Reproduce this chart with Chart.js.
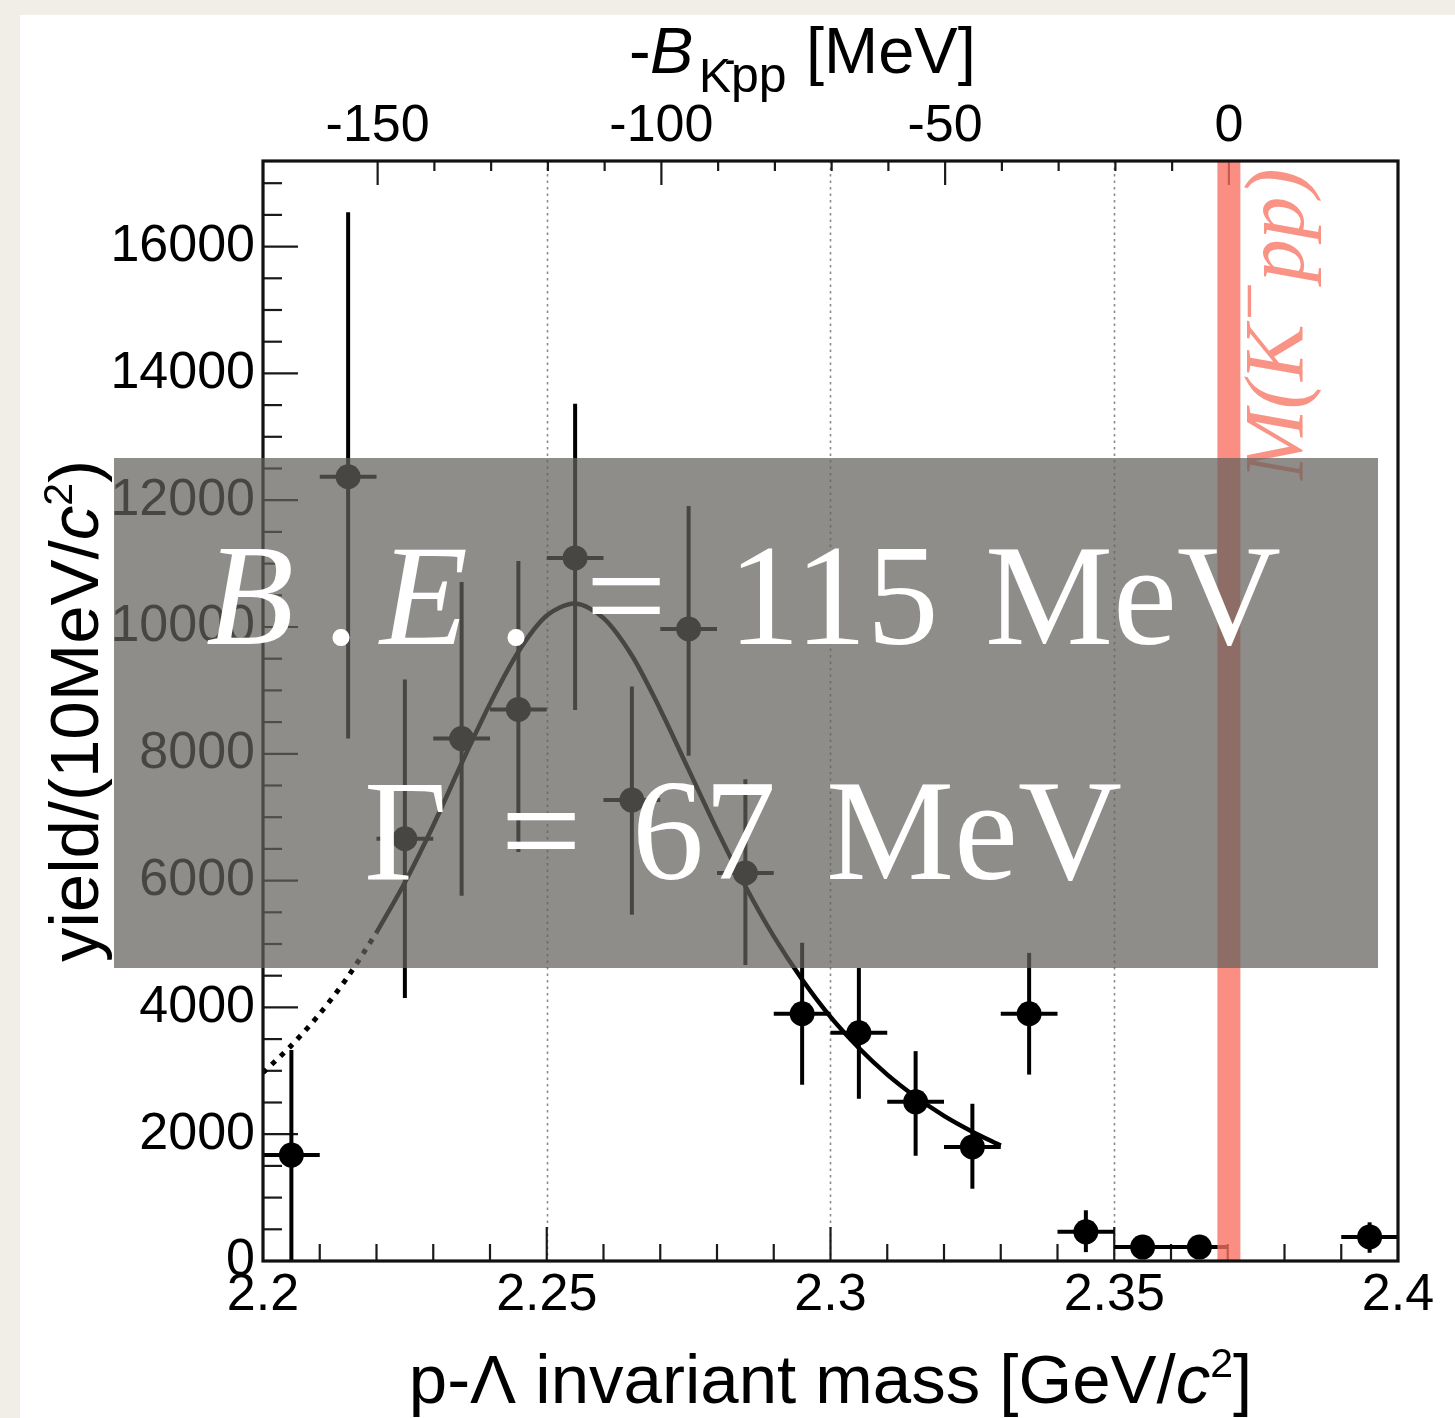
<!DOCTYPE html>
<html><head><meta charset="utf-8">
<script src="https://cdn.jsdelivr.net/npm/chart.js@4.4.1/dist/chart.umd.min.js"></script>
<style>html,body{margin:0;padding:0;background:#f1eee8;overflow:hidden}canvas{display:block}</style>
</head><body>
<canvas id="c" width="1455" height="1418"></canvas>
<script>
// ---------------- data ----------------
const binCenters  = [2.205,2.215,2.225,2.235,2.245,2.255,2.265,2.275,2.285,2.295,2.305,2.315,2.325,2.335,2.345,2.355,2.365,2.395];
const yieldValues = [1670,12370,6660,8240,8700,11090,7270,9970,6120,3900,3600,2510,1800,3900,460,220,220,380];
const yieldUpper  = [3330,16540,9170,10710,11040,13520,9060,11910,7600,5020,4620,3310,2480,4860,800,330,330,610];
const yieldLower  = [0,8240,4150,5760,6450,8690,5460,7970,4670,2780,2560,1660,1140,2940,140,110,110,130];
const binHalfWidth = 0.005;

const fitMassSolid  = [2.220,2.225,2.230,2.235,2.240,2.245,2.250,2.255,2.260,2.265,2.270,2.275,2.280,2.285,2.290,2.295,2.300,2.305,2.310,2.315,2.320,2.325,2.330];
const fitYieldSolid = [5180,5970,6870,7850,8790,9610,10180,10370,10140,9550,8700,7750,6800,5910,5120,4440,3850,3360,2940,2590,2290,2040,1820];
const fitMassDotted  = [2.200,2.205,2.210,2.215,2.220];
const fitYieldDotted = [2970,3400,3900,4490,5180];

const thresholdMass = 2.3702;       // M(K- p p) in GeV/c2, where -B = 0
const massMin = 2.2, massMax = 2.4, yieldMax = 17350;

const xTickValues = [2.2,2.25,2.3,2.35,2.4];
const xTickLabels = ['2.2','2.25','2.3','2.35','2.4'];
const yTickValues = [0,2000,4000,6000,8000,10000,12000,14000,16000];
const yTickLabels = ['0','2000','4000','6000','8000','10000','12000','14000','16000'];
const topTickValues = [-150,-100,-50,0];
const topTickLabels = ['-150','-100','-50','0'];
const gridMasses = [2.25,2.3,2.35];

// ---------------- layout ----------------
const W = 1455, H = 1418;
const PLOT = {left:263, top:161, right:1398, bottom:1261};
const SANS = '"Liberation Sans", Arial, sans-serif';
const SERIF = '"Liberation Serif", "Times New Roman", serif';

function drawRich(c, segs, x, y){
  let cx = x;
  segs.forEach(s => { c.font = s.font; cx += (s.pre||0); c.fillText(s.t, cx, y + (s.dy||0)); cx += c.measureText(s.t).width + (s.dx||0); });
}
function richWidth(c, segs){
  let w = 0;
  segs.forEach(s => { c.font = s.font; w += (s.pre||0) + c.measureText(s.t).width + (s.dx||0); });
  return w;
}

const deco = {
  id:'deco',
  beforeDraw(chart){
    const c = chart.ctx;
    c.save();
    c.fillStyle = '#f1eee8'; c.fillRect(0,0,W,H);
    c.fillStyle = '#ffffff'; c.fillRect(20,15,W-20,H-15);
    c.restore();
  },
  beforeDatasetsDraw(chart){
    const c = chart.ctx, a = chart.chartArea;
    const xs = chart.scales.x, ys = chart.scales.y, ts = chart.scales.x2;
    c.save();
    // dotted vertical grid
    c.strokeStyle = '#8a8a8a'; c.lineWidth = 1.6; c.setLineDash([2.5,4]);
    gridMasses.forEach(m => {
      const px = Math.round(xs.getPixelForValue(m)) + 0.5;
      c.beginPath(); c.moveTo(px, a.top); c.lineTo(px, a.bottom); c.stroke();
    });
    c.setLineDash([]);
    // inward ticks
    c.strokeStyle = '#1a1a1a'; c.lineWidth = 2.2;
    const seg = (x1,y1,x2,y2)=>{ c.beginPath(); c.moveTo(x1,y1); c.lineTo(x2,y2); c.stroke(); };
    for (let k = 1; k < 20; k++) {
      const px = xs.getPixelForValue(massMin + k*0.01);
      seg(px, a.bottom, px, a.bottom - (k%5===0 ? 34 : 17));
    }
    for (let v = 500; v <= 17000; v += 500) {
      const py = ys.getPixelForValue(v);
      seg(a.left, py, a.left + (v%2000===0 ? 35 : 19), py);
    }
    for (let v = -150; v <= 0; v += 10) {
      const px = ts.getPixelForValue(v);
      seg(px, a.top, px, a.top + (v%50===0 ? 24 : 10));
    }
    // error bars
    c.strokeStyle = '#000'; c.lineWidth = 4;
    binCenters.forEach((m,i) => {
      const px = xs.getPixelForValue(m), py = ys.getPixelForValue(yieldValues[i]);
      seg(px, ys.getPixelForValue(yieldLower[i]), px, ys.getPixelForValue(yieldUpper[i]));
      seg(xs.getPixelForValue(m - binHalfWidth), py, xs.getPixelForValue(m + binHalfWidth), py);
    });
    c.restore();
  },
  afterDatasetsDraw(chart){
    const c = chart.ctx, a = chart.chartArea;
    c.save();
    // frame
    c.strokeStyle = '#111'; c.lineWidth = 3.2;
    c.strokeRect(a.left, a.top, a.right - a.left, a.bottom - a.top);
    // M(K- pp) label, rotated
    c.translate(1303, 480); c.rotate(-Math.PI/2);
    c.fillStyle = 'rgba(247,128,112,0.85)'; c.textBaseline = 'alphabetic';
    drawRich(c, [
      {t:'M(K', font:'italic 85px ' + SERIF},
      {t:'\u2212', font:'68px ' + SERIF, dy:-31, pre:4, dx:0},
      {t:'pp)', font:'italic 85px ' + SERIF}
    ], 0, 0);
    c.restore();
  },
  afterDraw(chart){
    const c = chart.ctx;
    c.save();
    // translucent gray box
    c.fillStyle = 'rgba(100,97,92,0.72)';
    c.fillRect(114, 458, 1378-114, 968-458);
    // white text
    c.fillStyle = '#ffffff'; c.textBaseline = 'alphabetic'; c.textAlign = 'left';
    const big = '144px ' + SERIF, bigI = 'italic 144px ' + SERIF;
    c.font = bigI; c.fillText('B', 206, 644);
    c.font = big;  c.textAlign='center'; c.fillText('.', 341, 644); c.textAlign='left';
    c.font = bigI; c.fillText('E', 380, 644);
    c.font = big;  c.textAlign='center'; c.fillText('.', 516, 644); c.fillText('=', 626, 644); c.textAlign='left';
    c.fillText('115', 728, 644);
    c.fillText('MeV', 985, 644);
    c.fillText('\u0393', 364, 879);
    c.textAlign='center'; c.fillText('=', 541, 879); c.textAlign='left';
    c.fillText('67', 632, 879);
    c.fillText('MeV', 826, 879);

    // axis titles
    c.fillStyle = '#000';
    const bSegs = [
      {t:'p-\u039B invariant mass [GeV/', font:'69px ' + SANS},
      {t:'c', font:'italic 69px ' + SANS},
      {t:'2', font:'41px ' + SANS, dy:-26},
      {t:']', font:'69px ' + SANS}
    ];
    const bw = richWidth(c, bSegs);
    drawRich(c, bSegs, (PLOT.left + PLOT.right)/2 - bw/2, 1403);

    const ySegs = [
      {t:'yield/(10MeV/', font:'69px ' + SANS},
      {t:'c', font:'italic 69px ' + SANS},
      {t:'2', font:'41px ' + SANS, dy:-26},
      {t:')', font:'69px ' + SANS}
    ];
    const yw = richWidth(c, ySegs);
    c.save();
    c.translate(98, (PLOT.top + PLOT.bottom)/2); c.rotate(-Math.PI/2);
    drawRich(c, ySegs, -yw/2, 0);
    c.restore();

    // top title  -B_{K^- pp} [MeV]
    c.font = '65px ' + SANS; c.fillText('-', 629, 73);
    c.font = 'italic 65px ' + SANS; c.fillText('B', 650, 73);
    c.font = '48px ' + SANS; c.fillText('K', 699, 92);
    c.font = 'bold 30px ' + SANS; c.fillText('-', 725, 70);
    c.font = '50px ' + SANS; c.fillText('pp', 731, 92);
    c.font = '65px ' + SANS; c.fillText('[MeV]', 806, 73);
    c.restore();
  }
};

const tickFont = {family:'"Liberation Sans", Arial, sans-serif', size:52, lineHeight:1};

new Chart(document.getElementById('c'), {
  type:'scatter',
  data:{datasets:[
    {label:'data', data: binCenters.map((x,i)=>({x, y:yieldValues[i]})),
     pointRadius:12.5, pointHoverRadius:12.5, pointBackgroundColor:'#000', pointBorderWidth:0, showLine:false, order:0},
    {label:'fit', type:'line', data: fitMassSolid.map((x,i)=>({x, y:fitYieldSolid[i]})),
     borderColor:'#000', borderWidth:4.5, pointRadius:0, tension:0.3, fill:false, order:1},
    {label:'fit extrapolation', type:'line', data: fitMassDotted.map((x,i)=>({x, y:fitYieldDotted[i]})),
     borderColor:'#000', borderWidth:5, borderDash:[5,7], pointRadius:0, tension:0.3, fill:false, order:2},
    {label:'K-pp threshold', type:'line', data:[{x:thresholdMass, y:0},{x:thresholdMass, y:yieldMax}],
     borderColor:'rgba(248,110,95,0.78)', borderWidth:23, borderCapStyle:'butt', pointRadius:0, fill:false, order:3}
  ]},
  options:{
    responsive:false, animation:false, devicePixelRatio:1,
    layout:{padding:{left:0, top:0, right:W-PLOT.right, bottom:0}},
    plugins:{legend:{display:false}, tooltip:{enabled:false}},
    scales:{
      x:{type:'linear', position:'bottom', min:massMin, max:massMax,
         afterBuildTicks: s => { s.ticks = xTickValues.map(v=>({value:v})); },
         afterFit: s => { s.height = H - PLOT.bottom; },
         ticks:{callback: v => xTickLabels[xTickValues.indexOf(v)], font:tickFont, color:'#000', padding:9,
                autoSkip:false, maxRotation:0, minRotation:0},
         grid:{display:false, drawTicks:false}, border:{display:false}},
      x2:{type:'linear', position:'top', min:(massMin-thresholdMass)*1000, max:(massMax-thresholdMass)*1000,
         afterBuildTicks: s => { s.ticks = topTickValues.map(v=>({value:v})); },
         afterFit: s => { s.height = PLOT.top; },
         ticks:{callback: v => topTickLabels[topTickValues.indexOf(v)], font:tickFont, color:'#000', padding:8,
                autoSkip:false, maxRotation:0, minRotation:0},
         grid:{display:false, drawTicks:false}, border:{display:false}},
      y:{type:'linear', position:'left', min:0, max:yieldMax,
         afterBuildTicks: s => { s.ticks = yTickValues.map(v=>({value:v})); },
         afterFit: s => { s.width = PLOT.left; },
         ticks:{callback: v => yTickLabels[yTickValues.indexOf(v)], font:tickFont, color:'#000', padding:8, autoSkip:false},
         grid:{display:false, drawTicks:false}, border:{display:false}}
    }
  },
  plugins:[deco]
});
</script>
</body></html>
